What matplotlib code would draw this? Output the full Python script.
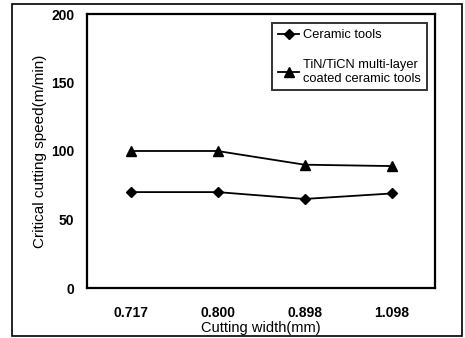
import matplotlib.pyplot as plt
from matplotlib.patches import Rectangle

plt.rcParams['font.family'] = ['Liberation Sans', 'DejaVu Sans']

# Datos
widths = ["0.717", "0.800", "0.898", "1.098"]
ceramic = [70, 70, 65, 69]
coated = [100, 100, 90, 89]
yticks = [0, 50, 100, 150, 200]

fig = plt.figure(figsize=(4.65, 3.38), dpi=100)
ax = fig.add_axes([87 / 465, 1 - 288 / 338, 348 / 465, 274 / 338])

x = range(len(widths))
ax.plot(x, ceramic, color="black", lw=1.3, marker="D", markersize=5.5,
        label="Ceramic tools")
ax.plot(x, coated, color="black", lw=1.3, marker="^", markersize=7,
        label="TiN/TiCN multi-layer\ncoated ceramic tools")

ax.set_xlim(-0.5, 3.5)
ax.set_ylim(0, 200)
ax.set_xticks(list(x))
ax.set_xticklabels(widths, fontsize=10, fontweight="bold")
ax.set_yticks(yticks)
ax.set_yticklabels([str(v) for v in yticks], fontsize=10, fontweight="bold")
ax.tick_params(axis="y", length=0, pad=9)
ax.tick_params(axis="x", length=0, pad=13)
for s in ax.spines.values():
    s.set_linewidth(1.6)

ax.set_xlabel("Cutting width(mm)", fontsize=10.5, labelpad=1)
ax.set_ylabel("Critical cutting speed(m/min)", fontsize=11, labelpad=3)

leg = ax.legend(loc="upper right", bbox_to_anchor=(0.983, 0.975), fontsize=9.3,
                frameon=True, fancybox=False, edgecolor="black",
                handlelength=1.6, handletextpad=0.3, labelspacing=1.35,
                borderpad=0.45, borderaxespad=0.2)
leg.get_frame().set_linewidth(1.4)

# marco exterior
fig.patches.append(Rectangle((12 / 465, 2 / 338), 450 / 465, 332 / 338,
                             transform=fig.transFigure, fill=False,
                             edgecolor="black", lw=1.2))

fig.savefig("out.png", dpi=100)
